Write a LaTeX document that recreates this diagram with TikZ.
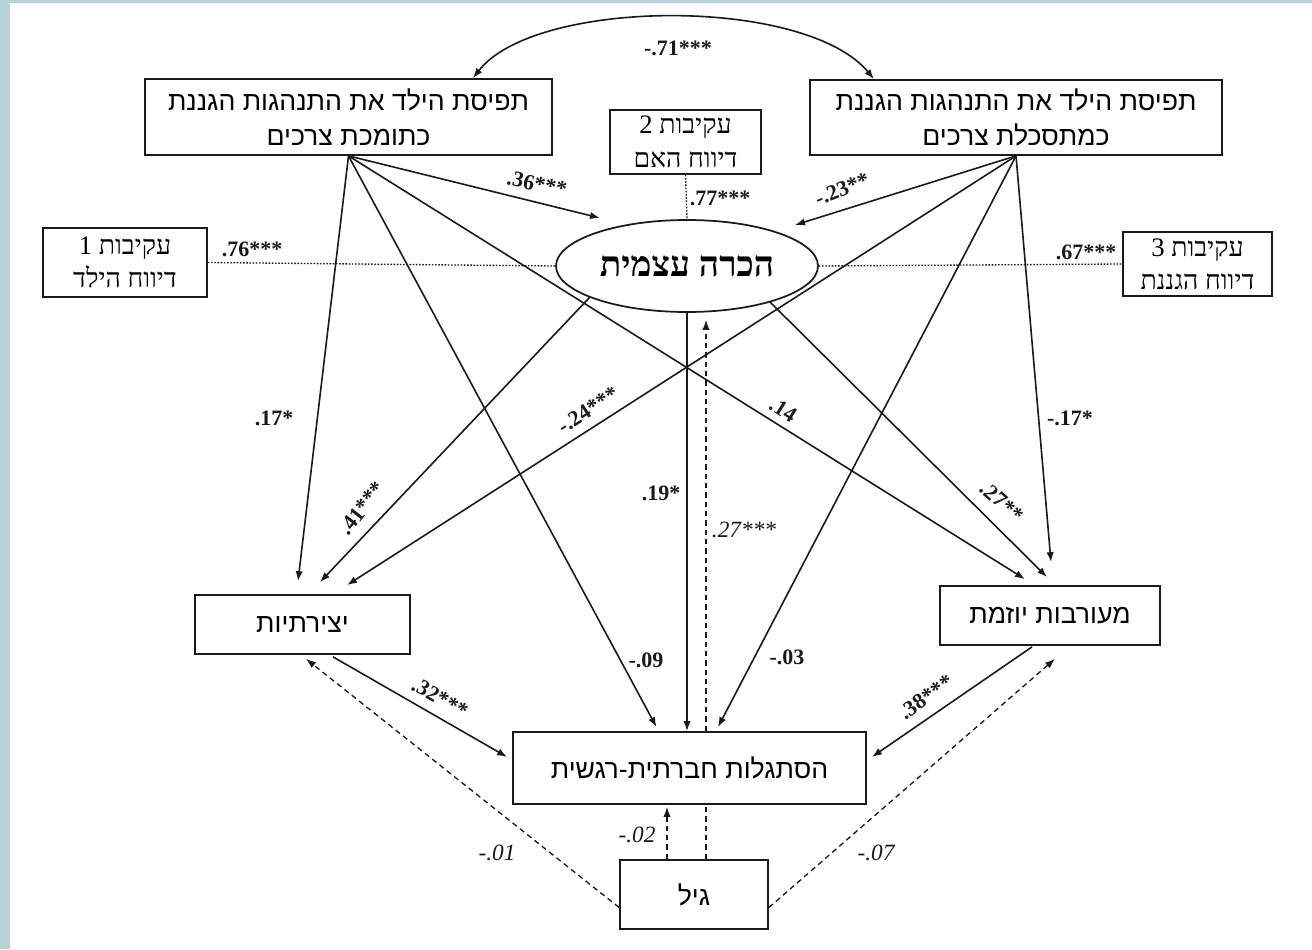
\documentclass[tikz,border=0pt]{standalone}
\usepackage{fontspec}
\setmainfont{Liberation Serif}
\newfontfamily\hsans[Script=Hebrew]{Liberation Sans}
\newfontfamily\hserif[Script=Hebrew]{Liberation Serif}
\usetikzlibrary{shapes.geometric,arrows.meta,calc}
\TeXXeTstate=1
\definecolor{frame}{HTML}{B8D3D8}
\definecolor{ink}{HTML}{1A1A1A}
\newcommand{\heb}[1]{\beginR #1\endR}
\begin{document}
\begin{tikzpicture}[x=0.75pt,y=-0.75pt,
  box/.style={draw=ink, line width=1.3pt, fill=white, inner sep=0pt, align=center},
  sz/.style 2 args={minimum width=#1*0.75pt, minimum height=#2*0.75pt},
  big/.style={font=\hsans\fontsize{20}{26}\selectfont},
  small/.style={font=\hserif\fontsize{20}{25}\selectfont},
  arr/.style={draw=ink, line width=1.2pt, -{Latex[length=7.5pt,width=5.5pt]}},
  dsh/.style={draw=ink, line width=1pt, dash pattern=on 4pt off 3pt},
  darr/.style={dsh, -{Latex[length=7.5pt,width=5.5pt]}},
  dot/.style={draw=ink, line width=1pt, dash pattern=on 1.2pt off 1.2pt},
  lab/.style={font=\bfseries\fontsize{16.5}{19}\selectfont, inner sep=0pt, text=ink},
  ilab/.style={font=\itshape\fontsize{17.5}{20}\selectfont, inner sep=0pt, text=ink}]
\useasboundingbox (0,0) rectangle (1312,949);
\fill[white] (0,0) rectangle (1312,949);
\fill[frame] (0,0) rectangle (10,949);
\fill[frame] (0,0) rectangle (1312,3);

% nodes
\node[box,big,sz={407}{76}] (A) at (348.5,117) {\heb{תפיסת הילד את התנהגות הגננת}\\\heb{כתומכת צרכים}};
\node[box,big,sz={412}{75}] (B) at (1016,117.5) {\heb{תפיסת הילד את התנהגות הגננת}\\\heb{כמתסכלת צרכים}};
\node[box,small,sz={151}{64}] (M2) at (685.5,142) {\heb{עקיבות 2}\\\heb{דיווח האם}};
\node[draw=ink, line width=1.3pt, fill=white, ellipse, inner sep=0pt, sz={262}{92},
      font=\hserif\bfseries\fontsize{26.5}{30}\selectfont] (E) at (687,266) {\heb{הכרה עצמית}};
\node[box,small,sz={164}{69}] (M1) at (125,262.5) {\heb{עקיבות 1}\\\heb{דיווח הילד}};
\node[box,small,sz={149}{64}] (M3) at (1197.5,264) {\heb{עקיבות 3}\\\heb{דיווח הגננת}};
\node[box,big,sz={215}{59}] (C) at (302.5,624.5) {\heb{יצירתיות}};
\node[box,big,sz={220}{59}] (D) at (1050,615.5) {\heb{מעורבות יוזמת}};
\node[box,big,sz={353}{72}] (S) at (689.5,768) {\heb{הסתגלות חברתית-רגשית}};
\node[box,big,sz={148}{69}] (G) at (694,894.5) {\heb{גיל}};

% correlation between the two perceptions
\draw[draw=ink, line width=1.2pt, {Latex[length=7.5pt,width=5.5pt]}-{Latex[length=7.5pt,width=5.5pt]}]
  ($(A.north)+(124.5,0)$) .. controls (535,-2) and (805,-4) .. ($(B.north)+(-142,0)$);

% measurement (dotted)
\draw[dot] (M1.east) -- (E.west);
\draw[dot] (E.east) -- (M3.west);
\draw[dot] (M2.south) -- (E.north);

% from A
\draw[arr] (A.south) -- ($(E.center)+(-87,-48)$);
\draw[arr] (A.south) -- ($(C.north)+(-4.5,-13)$);
\draw[arr] (A.south) -- ($(S.north)+(-33,-4)$);
\draw[arr] (A.south) -- ($(D.north)+(-25,-6)$);
% from B
\draw[arr] (B.south) -- ($(E.center)+(108,-41)$);
\draw[arr] (B.south) -- ($(C.north)+(44.5,-9)$);
\draw[arr] (B.south) -- ($(S.north)+(28.5,-4)$);
\draw[arr] (B.south) -- ($(D.north)+(1,-23)$);
% from E
\draw[arr] ($(E.center)+(-97,31)$) -- ($(C.north)+(17.5,-12)$);
\draw[arr] ($(E.center)+(83,36)$) -- ($(D.north)+(-3,-8)$);
\draw[arr] (E.south) -- (E.south |- S.north);
% C, D -> S
\draw[arr] ($(C.south)+(30.5,2)$) -- ($(S.west)+(-5,-11)$);
\draw[arr] ($(D.south)+(-18,1)$) -- ($(S.east)+(5,-11)$);
% age (dashed)
\draw[darr] ($(S.north)+(16.5,0)$) -- ($(E.south)+(19,7)$);
\draw[dsh] ($(G.north)+(12,0)$) -- ($(S.south)+(16.5,0)$);
\draw[darr] ($(G.north)+(-27,0)$) -- ($(S.south)+(-22.5,2)$);
\draw[darr] ($(G.west)+(0,13)$) -- ($(C.south)+(3.5,4)$);
\draw[darr] ($(G.east)+(0,13)$) -- ($(D.south)+(5,13)$);

% labels
\node[lab] (l71) at (678,48) {-.71***};
\node[lab,rotate=-12] (l36) at (537,184) {.36***};
\node[lab,rotate=22] (l23) at (842,189) {-.23**};
\node[lab] (l77) at (720,198) {.77***};
\node[lab] (l76) at (252,249) {.76***};
\node[lab] (l67) at (1086,252) {.67***};
\node[lab] (l17a) at (274,418) {.17*};
\node[lab,rotate=33] (l24) at (588,410) {-.24***};
\node[lab,rotate=-32] (l14) at (783,410) {.14};
\node[lab] (l17b) at (1070,418) {-.17*};
\node[lab,rotate=52] (l41) at (362,508) {.41***};
\node[lab] (l19) at (661,493) {.19*};
\node[ilab] (l27i) at (744,530) {.27***};
\node[lab,rotate=-42] (l27b) at (1002,502) {.27**};
\node[lab] (l09) at (646,660) {-.09};
\node[lab] (l03) at (787,657) {-.03};
\node[lab,rotate=-30] (l32) at (440,698) {.32***};
\node[lab,rotate=35] (l38) at (926,697) {.38***};
\node[ilab] (l02) at (637,835) {-.02};
\node[ilab] (l01) at (497,853) {-.01};
\node[ilab] (l07) at (876,853) {-.07};
\end{tikzpicture}
\end{document}
